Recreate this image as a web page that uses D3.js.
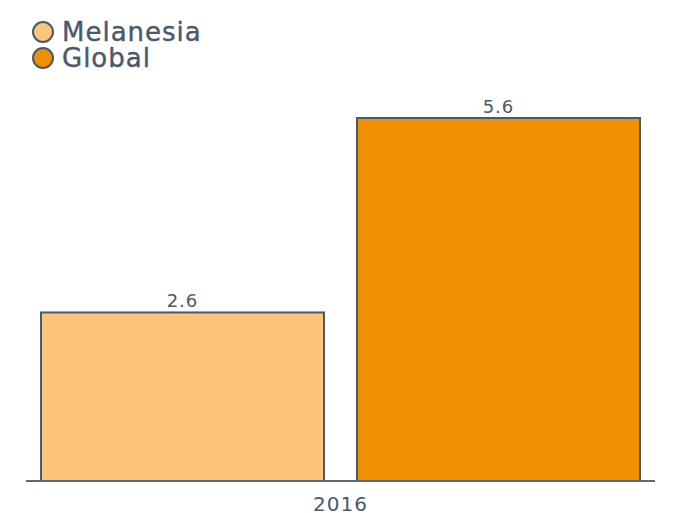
<!DOCTYPE html>
<html><head><meta charset="utf-8">
<script src="https://cdn.jsdelivr.net/npm/d3@7"></script>
<style>body{margin:0;background:#fff}svg{display:block;font-family:"DejaVu Sans",sans-serif}</style>
</head><body><svg id="c" width="674" height="513"></svg>
<script>
const categories = ["2016"];
const seriesNames = ["Melanesia", "Global"];
const seriesValues = [2.6, 5.6];
const seriesColors = ["#FCC57A", "#F28F00"];

const svg = d3.select("#c");
const ink = "#485A6B";
const x = d3.scaleBand().domain(seriesNames).range([26, 655]).paddingInner(0.1044).paddingOuter(0.0475);
const y = d3.scaleLinear().domain([0, 5.6]).range([481, 118]);

svg.selectAll("rect.bar").data(seriesNames).join("rect").attr("class","bar")
  .attr("x", d => x(d)).attr("width", x.bandwidth())
  .attr("y", (d,i) => y(seriesValues[i])).attr("height", (d,i) => y(0) - y(seriesValues[i]))
  .attr("fill", (d,i) => seriesColors[i]).attr("stroke", ink).attr("stroke-width", 2);

svg.selectAll("text.val").data(seriesNames).join("text").attr("class","val")
  .attr("x", d => x(d) + x.bandwidth()/2).attr("y", (d,i) => y(seriesValues[i]) - 5)
  .attr("text-anchor","middle").attr("fill", ink).attr("font-size", 18).attr("letter-spacing", 1)
  .text((d,i) => seriesValues[i].toFixed(1));

const xAxis = d3.axisBottom(d3.scalePoint().domain(categories).range([340, 340])).tickSize(0).tickPadding(0);
const ax = svg.append("g").attr("transform", "translate(0,481)").call(xAxis);
ax.select(".domain").remove();
ax.selectAll("text").attr("dy", null).attr("y", 30).attr("fill", ink).attr("font-size", 20)
  .attr("letter-spacing", 1).attr("font-family", "DejaVu Sans");
svg.append("line").attr("x1", 26).attr("x2", 655).attr("y1", 481).attr("y2", 481)
  .attr("stroke", "#5A6B7A").attr("stroke-width", 2);

const lg = svg.append("g").selectAll("g").data(seriesNames).join("g")
  .attr("transform", (d,i) => `translate(0,${i*26})`);
lg.append("circle").attr("cx", 43).attr("cy", 32).attr("r", 10)
  .attr("fill", (d,i) => seriesColors[i]).attr("stroke", ink).attr("stroke-width", 2);
lg.append("text").attr("x", 62).attr("y", 41).attr("fill", ink).attr("font-size", 26)
  .attr("letter-spacing", 1).attr("stroke", ink).attr("stroke-width", 0.4).text(d => d);
</script></body></html>
